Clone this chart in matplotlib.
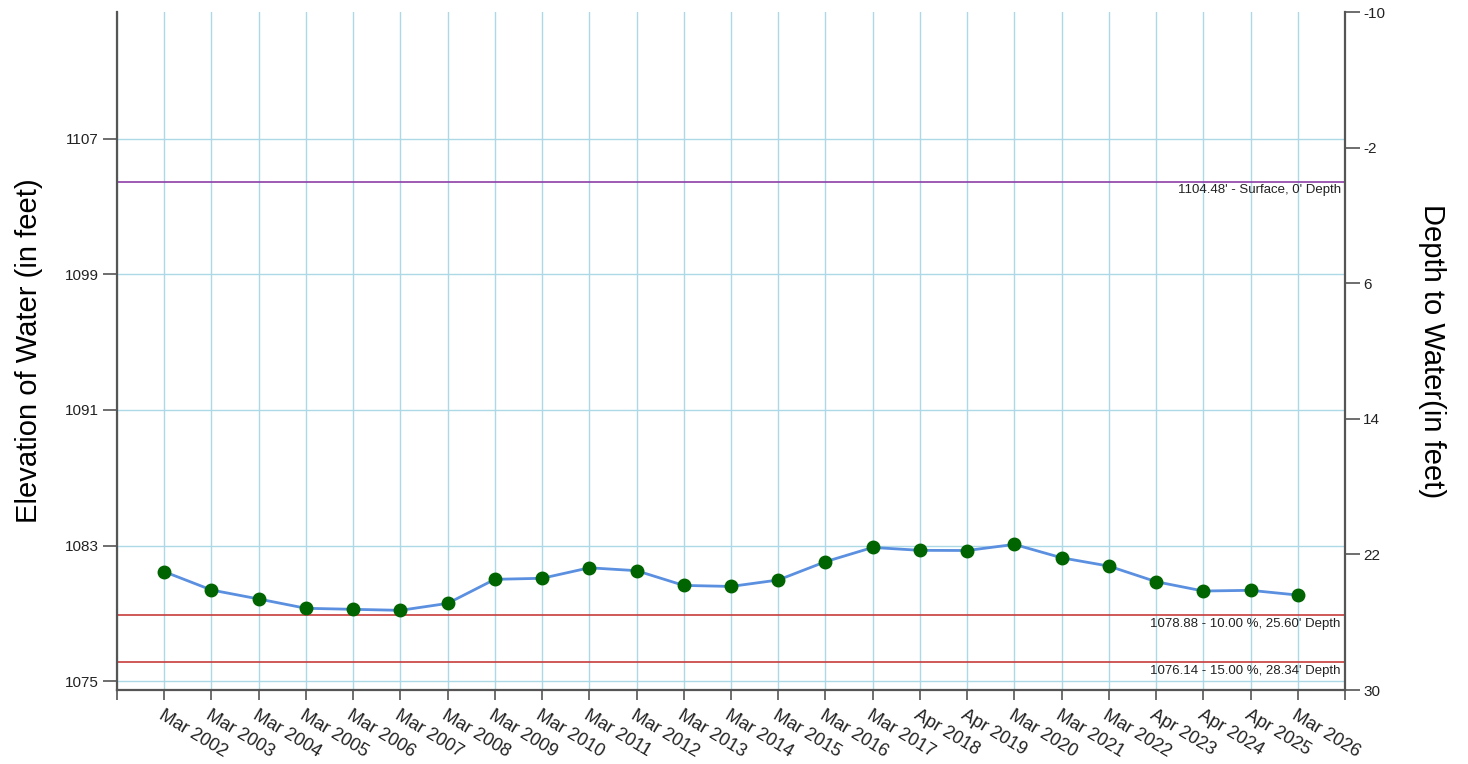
import matplotlib
matplotlib.use("Agg")
import matplotlib.pyplot as plt
import matplotlib.transforms as mtransforms

plt.rcParams['font.family'] = ['Liberation Sans', 'DejaVu Sans']
plt.rcParams['axes.unicode_minus'] = False

dates = ["Mar 2002", "Mar 2003", "Mar 2004", "Mar 2005", "Mar 2006", "Mar 2007",
         "Mar 2008", "Mar 2009", "Mar 2010", "Mar 2011", "Mar 2012", "Mar 2013",
         "Mar 2014", "Mar 2015", "Mar 2016", "Mar 2017", "Apr 2018", "Apr 2019",
         "Mar 2020", "Mar 2021", "Mar 2022", "Apr 2023", "Apr 2024", "Apr 2025",
         "Mar 2026"]
elevation = [1081.46, 1080.38, 1079.85, 1079.30, 1079.24, 1079.18,
             1079.59, 1081.01, 1081.07, 1081.69, 1081.52, 1080.65,
             1080.59, 1080.97, 1082.05, 1082.89, 1082.72, 1082.71,
             1083.07, 1082.28, 1081.79, 1080.87, 1080.32, 1080.36,
             1080.08]

surface = 1104.48
levels = [1078.88, 1076.14]
level_labels = ["1078.88 - 10.00 %, 25.60' Depth", "1076.14 - 15.00 %, 28.34' Depth"]
left_ticks = [1075, 1083, 1091, 1099, 1107]
right_ticks = [-10, -2, 6, 14, 22, 30]

spine_col = "#555555"
text_col = "#222222"

fig = plt.figure(figsize=(14.68, 7.64), dpi=100)
ax = fig.add_axes([117 / 1468, 1 - 690 / 764, (1345 - 117) / 1468, (690 - 12) / 764])

x = list(range(len(dates)))
ax.set_xlim(-1, len(dates))
ax.set_ylim(surface - 30, surface + 10)

ax.set_xticks(range(-1, len(dates) + 1))
ax.set_xticklabels([""] + dates + [""], rotation=-31, ha="left", va="top",
                   rotation_mode="anchor", fontsize=13, color=text_col)
ax.set_yticks(left_ticks)
ax.tick_params(axis="y", labelsize=11, length=10, width=1.2, color=spine_col,
               pad=3, labelcolor=text_col)
ax.tick_params(axis="x", length=7, width=1.2, color=spine_col, pad=5)

ax.grid(True, color="#add8e6", linewidth=1.0)
ax.set_axisbelow(True)

for s in ["left", "bottom", "right"]:
    ax.spines[s].set_color(spine_col)
    ax.spines[s].set_linewidth(1.6)
ax.spines["top"].set_visible(False)

ax.axhline(surface, color="#8e3fa6", linewidth=1.2, zorder=2)
for lv in levels:
    ax.axhline(lv, color="#c83c3c", linewidth=1.2, zorder=2)

trans = mtransforms.blended_transform_factory(ax.transAxes, ax.transData)
ax.annotate("1104.48' - Surface, 0' Depth", xy=(1, surface), xycoords=trans,
            xytext=(-3, -2), textcoords="offset points", ha="right", va="top",
            fontsize=9.5, color=text_col)
for lv, lab in zip(levels, level_labels):
    ax.annotate(lab, xy=(1, lv), xycoords=trans, xytext=(-3, -2),
                textcoords="offset points", ha="right", va="top",
                fontsize=9.5, color=text_col)

ax.plot(x, elevation, color="#5b8fe0", linewidth=2, marker="o", markersize=9,
        markerfacecolor="#006400", markeredgecolor="#006400", zorder=3)

ax.set_ylabel("Elevation of Water (in feet)", fontsize=21, labelpad=16)

ax2 = ax.twinx()
ax2.set_ylim(30, -10)
ax2.set_yticks(right_ticks)
ax2.tick_params(axis="y", labelsize=11, length=11, width=1.2, color=spine_col,
                pad=2, labelcolor=text_col)
for s in ax2.spines.values():
    s.set_visible(False)
ax2.set_ylabel("Depth to Water(in feet)", fontsize=21, rotation=270, labelpad=44)

fig.savefig("out.png", dpi=100)
